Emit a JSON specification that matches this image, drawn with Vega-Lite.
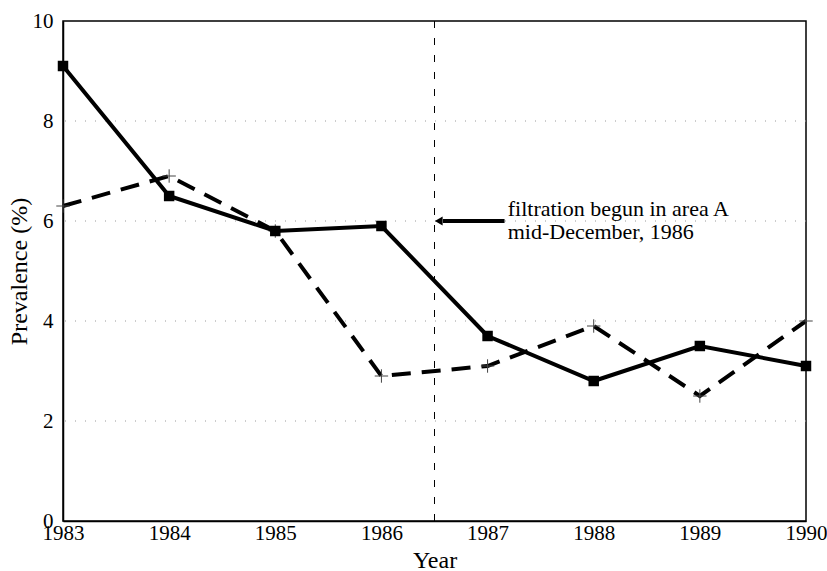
{
  "$schema": "https://vega.github.io/schema/vega-lite/v6.json",
  "autosize": {"type": "none"},
  "width": 743,
  "height": 500,
  "padding": {"left": 63, "top": 21, "right": 21, "bottom": 50},
  "background": "white",
  "config": {
    "view": {"stroke": "black", "strokeWidth": 1.5},
    "font": "Liberation Serif",
    "axis": {
      "labelFont": "Liberation Serif",
      "titleFont": "Liberation Serif",
      "labelFontSize": 21,
      "titleFontSize": 24,
      "titleFontWeight": "normal",
      "labelColor": "black",
      "titleColor": "black",
      "domainColor": "black",
      "domainWidth": 1.5,
      "ticks": false
    }
  },
  "resolve": {"scale": {"x": "shared", "y": "shared"}},
  "datasets": {
    "prev": [
      {"year": 1983, "value": 9.1, "series": "solid"},
      {"year": 1984, "value": 6.5, "series": "solid"},
      {"year": 1985, "value": 5.8, "series": "solid"},
      {"year": 1986, "value": 5.9, "series": "solid"},
      {"year": 1987, "value": 3.7, "series": "solid"},
      {"year": 1988, "value": 2.8, "series": "solid"},
      {"year": 1989, "value": 3.5, "series": "solid"},
      {"year": 1990, "value": 3.1, "series": "solid"},
      {"year": 1983, "value": 6.3, "series": "dashed"},
      {"year": 1984, "value": 6.9, "series": "dashed"},
      {"year": 1985, "value": 5.8, "series": "dashed"},
      {"year": 1986, "value": 2.9, "series": "dashed"},
      {"year": 1987, "value": 3.1, "series": "dashed"},
      {"year": 1988, "value": 3.9, "series": "dashed"},
      {"year": 1989, "value": 2.5, "series": "dashed"},
      {"year": 1990, "value": 4.0, "series": "dashed"}
    ]
  },
  "encoding": {
    "x": {"field": "year", "type": "quantitative", "scale": {"domain": [1983, 1990], "zero": false, "nice": false},
      "axis": {"title": "Year", "values": [1983, 1984, 1985, 1986, 1987, 1988, 1989, 1990], "format": "d", "grid": false, "labelFlush": false, "labelPadding": 1, "titlePadding": 5}},
    "y": {"field": "value", "type": "quantitative", "scale": {"domain": [0, 10], "nice": false},
      "axis": {"title": "Prevalence (%)", "values": [0, 2, 4, 6, 8, 10], "grid": false, "labelFlush": false, "labelPadding": 10, "titlePadding": 1}}
  },
  "layer": [
    {
      "data": {"values": [{"value": 2}, {"value": 4}, {"value": 6}, {"value": 8}]},
      "mark": {"type": "rule", "color": "#999999", "strokeWidth": 1, "strokeDash": [1, 9]},
      "encoding": {
        "x": null
      }
    },
    {
      "data": {"values": [{"year": 1986.5}]},
      "mark": {"type": "rule", "color": "black", "strokeWidth": 1, "strokeDash": [7, 10]},
      "encoding": {
        "y": null
      }
    },
    {
      "data": {"name": "prev"},
      "transform": [{"filter": "datum.series === 'dashed'"}],
      "mark": {"type": "line", "color": "black", "strokeWidth": 4, "strokeDash": [19, 11]}
    },
    {
      "data": {"name": "prev"},
      "transform": [{"filter": "datum.series === 'dashed'"}],
      "mark": {"type": "point", "shape": "M-1,0H1M0,-1V1", "filled": false, "color": "#444444", "strokeWidth": 1, "size": 180, "opacity": 1}
    },
    {
      "data": {"name": "prev"},
      "transform": [{"filter": "datum.series === 'solid'"}],
      "mark": {"type": "line", "color": "black", "strokeWidth": 4}
    },
    {
      "data": {"name": "prev"},
      "transform": [{"filter": "datum.series === 'solid'"}],
      "mark": {"type": "point", "shape": "square", "filled": true, "color": "black", "size": 110, "opacity": 1}
    },
    {
      "data": {"values": [{"year": 1986.58, "year2": 1987.16, "value": 6.0}]},
      "mark": {"type": "rule", "color": "black", "strokeWidth": 4},
      "encoding": {
        "x2": {"field": "year2"}
      }
    },
    {
      "data": {"values": [{"year": 1986.54, "value": 6.0}]},
      "mark": {"type": "point", "shape": "triangle-left", "filled": true, "color": "black", "size": 80, "opacity": 1}
    },
    {
      "data": {"values": [{"year": 1987.19, "value": 6.1, "t": "filtration begun in area A\nmid-December, 1986"}]},
      "mark": {"type": "text", "align": "left", "baseline": "alphabetic", "font": "Liberation Serif", "fontSize": 22, "color": "black", "lineBreak": "\n", "lineHeight": 23},
      "encoding": {
        "text": {"field": "t"}
      }
    }
  ]
}
